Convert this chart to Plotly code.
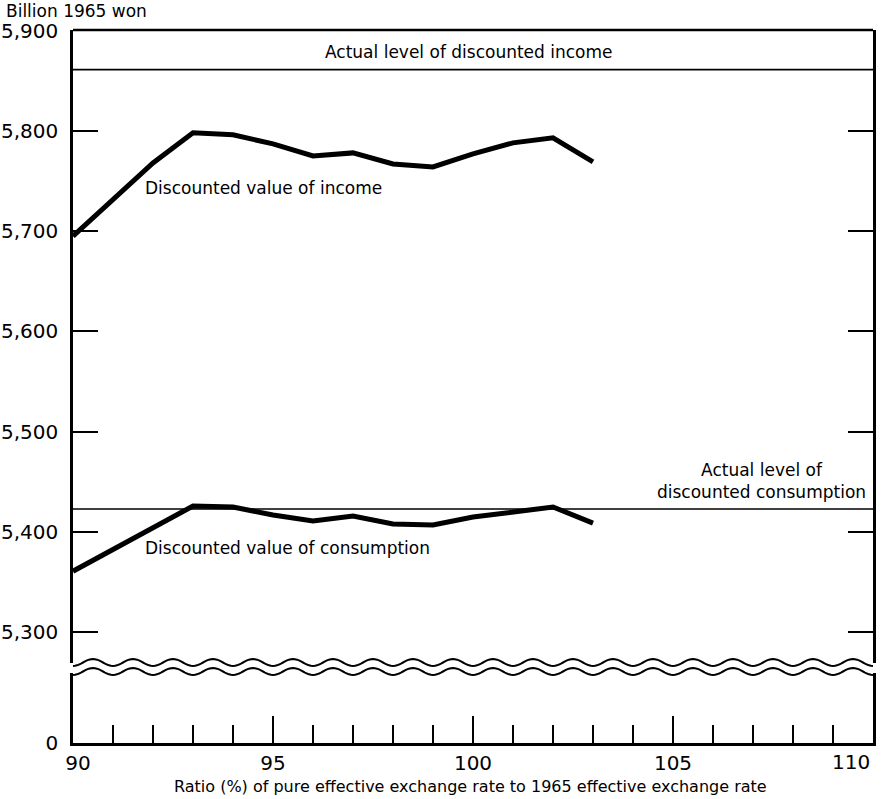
import numpy as np
import plotly.graph_objects as go

# ---- data ----
ratio = [90, 91, 92, 93, 94, 95, 96, 97, 98, 99, 100, 101, 102, 103]
income = [5695, 5732, 5768, 5798, 5796, 5787, 5775, 5778, 5767, 5764, 5777, 5788, 5793, 5769]
consumption = [5361, 5383, 5404, 5426, 5425, 5417, 5411, 5416, 5408, 5407, 5415, 5420, 5425, 5409]
actual_income = 5861
actual_consumption = 5423
x_range = [90, 110]
y_ticks_top = [5300, 5400, 5500, 5600, 5700, 5800, 5900]
x_ticks = [90, 95, 100, 105, 110]
x_tick_text = ["\u200290", "95", "100", "105", ""]
last_tick_label = "110"

FONT = "DejaVu Sans"
W, H = 883, 799
ML, MT = 73, 30
AX_BOTTOM = 743
PW = 800
MR = W - ML - PW
MB = H - AX_BOTTOM
PH = AX_BOTTOM - MT

def py(ypix):
    return (AX_BOTTOM - ypix) / PH

def px(xpix):
    return (xpix - ML) / PW

top_dom = [py(662.5), 1.0]
bot_dom = [0.0, py(673)]

fig = go.Figure()

fig.add_trace(go.Scatter(x=x_range, y=[actual_income] * 2, mode="lines",
                         line=dict(color="black", width=1.6), xaxis="x", yaxis="y",
                         hoverinfo="skip"))
fig.add_trace(go.Scatter(x=x_range, y=[actual_consumption] * 2, mode="lines",
                         line=dict(color="black", width=1.6), xaxis="x", yaxis="y",
                         hoverinfo="skip"))
fig.add_trace(go.Scatter(x=ratio, y=income, mode="lines",
                         line=dict(color="black", width=5), xaxis="x", yaxis="y"))
fig.add_trace(go.Scatter(x=ratio, y=consumption, mode="lines",
                         line=dict(color="black", width=5), xaxis="x", yaxis="y"))
fig.add_trace(go.Scatter(x=[None], y=[None], xaxis="x", yaxis="y2", showlegend=False))

# wavy break lines (decoration)
P = 40.0
xs = np.arange(73, 873.5, 2.0)
def wave_path(center):
    pts = []
    for i, xp in enumerate(xs):
        yp = center + 3.5 * np.cos(2 * np.pi * (xp - 73) / P)
        pts.append(("M" if i == 0 else "L") + f"{px(xp):.5f},{py(yp):.5f}")
    return " ".join(pts)

shapes = [
    dict(type="path", path=wave_path(662.5), xref="paper", yref="paper",
         line=dict(color="black", width=2)),
    dict(type="path", path=wave_path(671.5), xref="paper", yref="paper",
         line=dict(color="black", width=2)),
    dict(type="line", x0=0, x1=1, y0=1, y1=1, xref="paper", yref="paper",
         line=dict(color="black", width=2.5)),
]

annotations = [
    dict(text="Billion 1965 won", xref="paper", yref="paper", x=px(4), y=py(11),
         xanchor="left", yanchor="middle", showarrow=False, font=dict(size=17)),
    dict(text="Actual level of discounted income", xref="x", yref="y", x=99.9, y=5879,
         xanchor="center", yanchor="middle", showarrow=False, font=dict(size=17)),
    dict(text="Discounted value of income", xref="x", yref="y", x=91.75, y=5743,
         xanchor="left", yanchor="middle", showarrow=False, font=dict(size=17)),
    dict(text="Discounted value of consumption", xref="x", yref="y", x=91.75, y=5384,
         xanchor="left", yanchor="middle", showarrow=False, font=dict(size=17)),
    dict(text="Actual level of<br>discounted consumption", xref="x", yref="y", x=107.2, y=5451,
         xanchor="center", yanchor="middle", showarrow=False, font=dict(size=17)),
    dict(text="Ratio (%) of pure effective exchange rate to 1965 effective exchange rate",
         xref="paper", yref="paper", x=px(470), y=py(786), xanchor="center", yanchor="middle",
         showarrow=False, font=dict(size=16)),
    dict(text=last_tick_label, xref="x", yref="paper", x=x_range[1] - 0.03, y=py(762),
         xanchor="right", yanchor="middle", showarrow=False, font=dict(size=20)),
]

fig.update_layout(
    width=W, height=H,
    margin=dict(l=ML, r=MR, t=MT, b=MB, pad=0, autoexpand=False),
    paper_bgcolor="white", plot_bgcolor="white",
    showlegend=False,
    font=dict(family=FONT, color="black", size=17),
    shapes=shapes,
    annotations=annotations,
    xaxis=dict(domain=[0, 1], anchor="y2", range=x_range, tickvals=x_ticks, ticktext=x_tick_text,
               ticks="inside", ticklen=27, tickwidth=2, tickcolor="black",
               minor=dict(dtick=1, ticks="inside", ticklen=18, tickwidth=2, tickcolor="black"),
               showline=True, linewidth=2.5, linecolor="black", showgrid=False, zeroline=False,
               tickfont=dict(size=20), ticklabelstandoff=0, automargin=False,
               ticklabeloverflow="allow"),
    yaxis=dict(domain=top_dom, anchor="x", range=[5270, 5900.5], tickvals=y_ticks_top,
               tickformat=",d", ticks="inside", ticklen=25, tickwidth=2, tickcolor="black",
               showline=True, mirror="ticks", linewidth=2.5, linecolor="black",
               showgrid=False, zeroline=False, tickfont=dict(size=20), ticklabelstandoff=8,
               automargin=False, ticklabeloverflow="allow"),
    yaxis2=dict(domain=bot_dom, anchor="x", range=[0, 70], tickvals=[0],
                ticks="", showline=True, mirror=True, linewidth=2.5, linecolor="black",
                showgrid=False, zeroline=False, tickfont=dict(size=20), ticklabelstandoff=8,
                automargin=False, ticklabeloverflow="allow"),
)

fig.write_html("out.html", config={"displayModeBar": False},
               post_script="document.body.style.margin='0';document.body.style.padding='0';")
